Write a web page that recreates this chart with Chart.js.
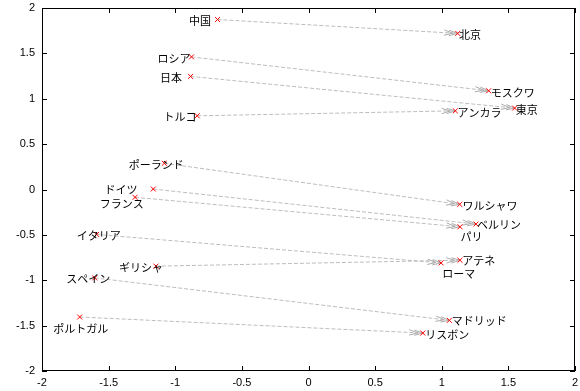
<!DOCTYPE html>
<html lang="ja">

<head>
    <meta charset="UTF-8">
    <title>国と首都</title>
    <script src="https://cdn.jsdelivr.net/npm/chart.js"></script>
    <style>
        body {
            margin: 0;
            background: #fff;
        }

        #wrap {
            width: 580px;
            height: 391px;
        }
    </style>
</head>

<body>
    <div id="wrap"><canvas id="myChart"></canvas></div>

    <script>
        // 国 (左側) と 首都 (右側) の座標
        var countries = ['中国', 'ロシア', '日本', 'トルコ', 'ポーランド', 'ドイツ', 'フランス', 'イタリア', 'ギリシャ', 'スペイン', 'ポルトガル'];
        var countryX = [-0.683, -0.878, -0.885, -0.835, -1.082, -1.165, -1.302, -1.590, -1.145, -1.604, -1.717];
        var countryY = [1.873, 1.461, 1.246, 0.812, 0.289, 0.005, -0.086, -0.495, -0.845, -0.974, -1.405];

        var capitals = ['北京', 'モスクワ', '東京', 'アンカラ', 'ワルシャワ', 'ベルリン', 'パリ', 'ローマ', 'アテネ', 'マドリッド', 'リスボン'];
        var capitalX = [1.120, 1.352, 1.547, 1.102, 1.135, 1.257, 1.137, 0.995, 1.137, 1.057, 0.858];
        var capitalY = [1.720, 1.088, 0.897, 0.867, -0.164, -0.381, -0.411, -0.809, -0.779, -1.442, -1.582];

        var xTicks = [-2, -1.5, -1, -0.5, 0, 0.5, 1, 1.5, 2];
        var yTicks = [-2, -1.5, -1, -0.5, 0, 0.5, 1, 1.5, 2];

        // ラベルの位置 (マーカーからのずれ, px)
        var countryLabelDx = [-17.5, -17.6, -19.5, -17.2, -8, -32.3, -13.2, 2.2, -15, -6.5, 1];
        var countryLabelDy = [1.7, 1.4, 1, 0.7, 1.4, 1, 7, 1.7, 1.3, 1.3, 11.6];
        var capitalLabelDx = [12.3, 24, 12, 24.1, 30.2, 23, 11.5, 17.7, 18.7, 29.8, 24.3];
        var capitalLabelDy = [1.3, 1.7, 1.7, 2.3, 1.7, 1, 10, 10.6, 0.7, 0.7, 1.3];

        function toPoints(xs, ys) {
            return xs.map(function (x, i) { return { x: x, y: ys[i] }; });
        }

        // 破線の矢印 (国 -> 首都)
        var arrowPlugin = {
            id: 'arrows',
            beforeDatasetsDraw: function (chart) {
                var ctx = chart.ctx, sx = chart.scales.x, sy = chart.scales.y;
                ctx.save();
                ctx.lineWidth = 1;
                for (var i = 0; i < countries.length; i++) {
                    var x0 = sx.getPixelForValue(countryX[i]), y0 = sy.getPixelForValue(countryY[i]);
                    var x1 = sx.getPixelForValue(capitalX[i]), y1 = sy.getPixelForValue(capitalY[i]);
                    ctx.strokeStyle = '#bdbdbd';
                    ctx.setLineDash([4, 2]);
                    ctx.beginPath();
                    ctx.moveTo(x0, y0);
                    ctx.lineTo(x1, y1);
                    ctx.stroke();
                    // 矢じり (二重)
                    var a = Math.atan2(y1 - y0, x1 - x0), len = 9, w = 0.3;
                    ctx.setLineDash([]);
                    ctx.strokeStyle = '#ababab';
                    ctx.beginPath();
                    [0, 5].forEach(function (back) {
                        var tx = x1 - back * Math.cos(a), ty = y1 - back * Math.sin(a);
                        ctx.moveTo(tx - len * Math.cos(a - w), ty - len * Math.sin(a - w));
                        ctx.lineTo(tx, ty);
                        ctx.lineTo(tx - len * Math.cos(a + w), ty - len * Math.sin(a + w));
                    });
                    ctx.stroke();
                }
                ctx.restore();
            },
            afterDatasetsDraw: function (chart) {
                var ctx = chart.ctx, sx = chart.scales.x, sy = chart.scales.y;
                ctx.save();
                ctx.font = '11px "Noto Sans CJK JP"';
                ctx.fillStyle = '#000';
                ctx.textAlign = 'center';
                ctx.textBaseline = 'middle';
                for (var i = 0; i < countries.length; i++) {
                    ctx.fillText(countries[i], sx.getPixelForValue(countryX[i]) + countryLabelDx[i], sy.getPixelForValue(countryY[i]) + countryLabelDy[i]);
                    ctx.fillText(capitals[i], sx.getPixelForValue(capitalX[i]) + capitalLabelDx[i], sy.getPixelForValue(capitalY[i]) + capitalLabelDy[i]);
                }
                ctx.restore();
            },
            afterDraw: function (chart) {
                // 枠と内向きの目盛り
                var ctx = chart.ctx, a = chart.chartArea, sx = chart.scales.x, sy = chart.scales.y;
                ctx.save();
                ctx.strokeStyle = '#000';
                ctx.lineWidth = 1;
                ctx.strokeRect(a.left + 0.5, a.top + 0.5, a.right - a.left - 1, a.bottom - a.top - 1);
                ctx.beginPath();
                xTicks.forEach(function (v) {
                    var px = Math.round(sx.getPixelForValue(v)) + 0.5;
                    ctx.moveTo(px, a.bottom); ctx.lineTo(px, a.bottom - 5);
                    ctx.moveTo(px, a.top); ctx.lineTo(px, a.top + 5);
                });
                yTicks.forEach(function (v) {
                    var py = Math.round(sy.getPixelForValue(v)) + 0.5;
                    ctx.moveTo(a.left, py); ctx.lineTo(a.left + 5, py);
                    ctx.moveTo(a.right, py); ctx.lineTo(a.right - 5, py);
                });
                ctx.stroke();
                ctx.restore();
            }
        };

        var markerStyle = {
            pointStyle: 'crossRot',
            pointRadius: 3.5,
            borderColor: '#ff0000',
            backgroundColor: '#ff0000',
            borderWidth: 1,
            showLine: false
        };

        var tickFont = { family: '"Liberation Sans", Arial, sans-serif', size: 11 };

        var ctx = document.getElementById('myChart').getContext('2d');
        var myChart = new Chart(ctx, {
            type: 'scatter',
            data: {
                datasets: [
                    Object.assign({ label: '国', data: toPoints(countryX, countryY) }, markerStyle),
                    Object.assign({ label: '首都', data: toPoints(capitalX, capitalY) }, markerStyle)
                ]
            },
            options: {
                responsive: true,
                maintainAspectRatio: false,
                animation: false,
                layout: { padding: { left: 0, right: 3, top: 8, bottom: 0 } },
                plugins: {
                    legend: { display: false },
                    tooltip: { enabled: false }
                },
                scales: {
                    x: {
                        type: 'linear',
                        min: -2,
                        max: 2,
                        afterBuildTicks: function (s) { s.ticks = xTicks.map(function (v) { return { value: v }; }); },
                        afterFit: function (s) { s.height = 20; s.paddingLeft = 0; s.paddingRight = 0; },
                        grid: { display: false, drawTicks: false },
                        border: { display: false },
                        ticks: {
                            padding: 5,
                            color: '#000',
                            maxRotation: 0,
                            font: tickFont,
                            callback: function (v) { return String(v); }
                        }
                    },
                    y: {
                        type: 'linear',
                        min: -2,
                        max: 2,
                        afterBuildTicks: function (s) { s.ticks = yTicks.map(function (v) { return { value: v }; }); },
                        afterFit: function (s) { s.width = 42; s.paddingTop = 0; s.paddingBottom = 0; },
                        grid: { display: false, drawTicks: false },
                        border: { display: false },
                        ticks: {
                            padding: 7,
                            color: '#000',
                            font: tickFont,
                            callback: function (v) { return String(v); }
                        }
                    }
                }
            },
            plugins: [arrowPlugin]
        });
    </script>
</body>

</html>
